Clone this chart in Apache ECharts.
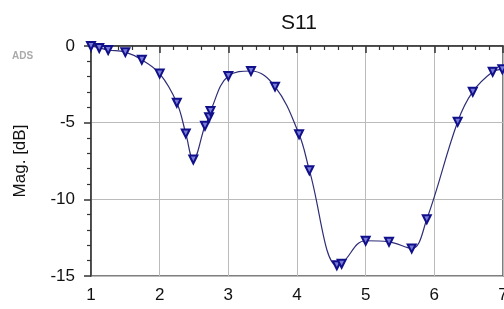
<!DOCTYPE html>
<html>
<head>
<meta charset="utf-8">
<script src="https://cdn.jsdelivr.net/npm/echarts@6/dist/echarts.min.js"></script>
<style>
  html, body { margin: 0; padding: 0; background: #fff; }
  #chart { width: 504px; height: 309px; }
</style>
</head>
<body>
<div id="chart"></div>
<script>
// frequency (GHz) and S11 magnitude (dB)
const freq = [1.0, 1.12, 1.25, 1.5, 1.74, 2.0, 2.25, 2.38, 2.49, 2.66, 2.72, 2.74, 3.0, 3.33, 3.68, 4.03, 4.18, 4.58, 4.65, 5.0, 5.34, 5.67, 5.89, 6.34, 6.56, 6.85, 6.99]
const s11 = [0, -0.13, -0.26, -0.4, -0.9, -1.8, -3.7, -5.7, -7.4, -5.2, -4.65, -4.24, -1.96, -1.63, -2.65, -5.76, -8.1, -14.3, -14.2, -12.7, -12.77, -13.2, -11.3, -4.94, -2.98, -1.68, -1.52]
const xTicks = [1, 7, 1]
const yTicks = [-15, 0, 5]

const chart = echarts.init(document.getElementById('chart'))

const font = 'Liberation Sans, Arial, sans-serif'

chart.setOption({
  animation: false,
  title: {
    text: 'S11',
    left: 294,
    top: 8,
    textAlign: 'center',
    textStyle: { fontSize: 21, fontWeight: 'normal', color: '#111', fontFamily: font }
  },
  graphic: [{
    type: 'text',
    left: 12,
    top: 51,
    style: { text: 'ADS', fontSize: 10, fontWeight: 'bold', fill: '#aaa', fontFamily: font }
  }],
  grid: {
    left: 91,
    right: 1,
    top: 46,
    bottom: 33,
    outerBoundsMode: 'none',
    containLabel: false,
    show: true,
    borderColor: '#555',
    borderWidth: 1.5
  },
  xAxis: {
    type: 'value',
    min: xTicks[0],
    max: xTicks[1],
    interval: xTicks[2],
    axisLine: { lineStyle: { color: '#333', width: 1.5 } },
    axisTick: { length: 7, lineStyle: { color: '#333', width: 1.5 } },
    minorTick: { show: true, splitNumber: 5, length: 4, lineStyle: { color: '#333', width: 1.2 } },
    splitLine: { show: true, lineStyle: { color: '#bbb', width: 1 } },
    axisLabel: { fontSize: 17, color: '#111', margin: 11, fontFamily: font }
  },
  yAxis: {
    type: 'value',
    min: yTicks[0],
    max: yTicks[1],
    interval: yTicks[2],
    name: 'Mag. [dB]',
    nameLocation: 'middle',
    nameGap: 62,
    nameTextStyle: { fontSize: 17, color: '#111', fontFamily: font },
    axisLine: { show: true, lineStyle: { color: '#333', width: 1.5 } },
    axisTick: { show: true, length: 7, lineStyle: { color: '#333', width: 1.5 } },
    minorTick: { show: true, splitNumber: 5, length: 4, lineStyle: { color: '#333', width: 1.2 } },
    splitLine: { show: true, lineStyle: { color: '#bbb', width: 1 } },
    axisLabel: { fontSize: 17, color: '#111', margin: 16, fontFamily: font }
  },
  series: [{
    type: 'line',
    data: freq.map((f, i) => [f, s11[i]]),
    smooth: 0.4,
    symbol: 'triangle',
    symbolRotate: 180,
    symbolSize: 8,
    lineStyle: { color: '#2e2e78', width: 1.2 },
    itemStyle: { color: '#7a7ad8', borderColor: '#10108a', borderWidth: 2 }
  }]
})
</script>
</body>
</html>
